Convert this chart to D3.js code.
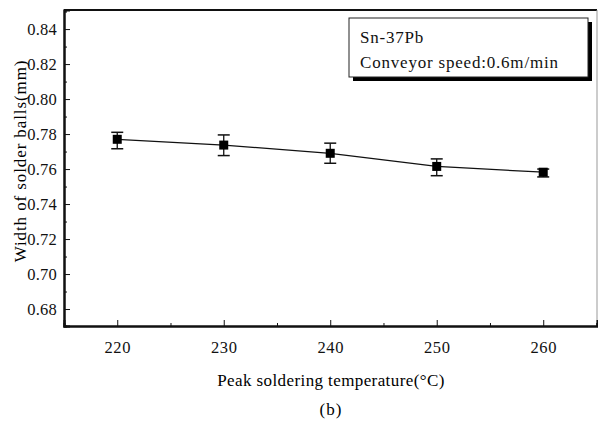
<!DOCTYPE html>
<html>
<head>
<meta charset="utf-8">
<script src="https://cdn.jsdelivr.net/npm/d3@7"></script>
<style>
  body { margin: 0; background: #fff; }
</style>
</head>
<body>
<script>
// Width of solder balls vs peak soldering temperature
var temps = [220, 230, 240, 250, 260];
var widths = [0.777, 0.7737, 0.769, 0.7615, 0.7582];
var errUp = [0.781, 0.7795, 0.7748, 0.7658, 0.760];
var errDown = [0.7716, 0.7677, 0.7633, 0.7562, 0.7555];
var xTicks = [220, 230, 240, 250, 260];
var yTicks = [0.68, 0.70, 0.72, 0.74, 0.76, 0.78, 0.80, 0.82, 0.84];
var legendLines = ['Sn-37Pb', 'Conveyor speed:0.6m/min'];

var serif = '"Liberation Serif", "Times New Roman", Times, "DejaVu Serif", serif';

var svgWidth = 598;
var svgHeight = 429;

var margin = { top: 10, right: 1, bottom: 103, left: 64 };
var chartWidth = svgWidth - margin.left - margin.right;
var chartHeight = svgHeight - margin.top - margin.bottom;

var svg = d3.select('body').append('svg')
  .attr('width', svgWidth)
  .attr('height', svgHeight);

var chart = svg.append('g')
  .attr('transform', `translate(${margin.left}, ${margin.top})`);

var xScale = d3.scaleLinear()
  .range([0, chartWidth])
  .domain([215, 265.05]);

var yScale = d3.scaleLinear()
  .range([chartHeight, 0])
  .domain([0.6703, 0.8509]);

// frame
chart.append('line')
  .attr('x1', 0).attr('x2', chartWidth)
  .attr('y1', 0).attr('y2', 0)
  .attr('stroke', '#111').attr('stroke-width', 2);
chart.append('line')
  .attr('x1', chartWidth).attr('x2', chartWidth)
  .attr('y1', 0).attr('y2', chartHeight)
  .attr('stroke', '#999').attr('stroke-width', 1);

// axes, ticks pointing inward
var bottomAxis = d3.axisBottom(xScale)
  .tickValues(xTicks)
  .tickSize(-6)
  .tickPadding(15)
  .tickFormat(d3.format('d'));
var bottomMinor = d3.axisBottom(xScale)
  .tickValues([225, 235, 245, 255, 265])
  .tickSize(-3)
  .tickFormat('');

var leftAxis = d3.axisLeft(yScale)
  .tickValues(yTicks)
  .tickSize(-6)
  .tickPadding(7)
  .tickFormat(d3.format('.2f'));
var leftMinor = d3.axisLeft(yScale)
  .tickValues([0.69, 0.71, 0.73, 0.75, 0.77, 0.79, 0.81, 0.83, 0.85])
  .tickSize(-3)
  .tickFormat('');

var gx = chart.append('g')
  .attr('transform', `translate(0, ${chartHeight})`)
  .call(bottomAxis);
chart.append('g')
  .attr('transform', `translate(0, ${chartHeight})`)
  .call(bottomMinor);

var gy = chart.append('g').call(leftAxis);
chart.append('g').call(leftMinor);

chart.selectAll('.domain')
  .attr('stroke', '#111')
  .attr('stroke-width', 2);
chart.selectAll('.tick line').attr('stroke', '#111');
gx.selectAll('text')
  .style('font-family', serif)
  .style('font-size', '16.5px')
  .style('letter-spacing', '0.6px')
  .attr('fill', '#111');
gy.selectAll('text')
  .style('font-family', serif)
  .style('font-size', '16.5px')
  .style('letter-spacing', '0.2px')
  .attr('fill', '#111');

// axis labels
chart.append('text')
  .attr('x', 267)
  .attr('y', chartHeight + 60)
  .attr('text-anchor', 'middle')
  .style('font-family', serif)
  .style('font-size', '17px')
  .style('letter-spacing', '0.4px')
  .text('Peak soldering temperature(\u00B0C)');

chart.append('text')
  .attr('x', 267)
  .attr('y', chartHeight + 89)
  .attr('text-anchor', 'middle')
  .style('font-family', serif)
  .style('font-size', '17px')
  .style('letter-spacing', '1px')
  .text('(b)');

chart.append('text')
  .attr('transform', 'rotate(-90)')
  .attr('x', -151)
  .attr('y', -38)
  .attr('text-anchor', 'middle')
  .style('font-family', serif)
  .style('font-size', '17px')
  .style('letter-spacing', '0.9px')
  .text('Width of solder balls(mm)');

// line
var line = d3.line()
  .x(function(d, i) { return xScale(temps[i]); })
  .y(function(d) { return yScale(d); });

chart.append('path')
  .datum(widths)
  .attr('d', line)
  .attr('fill', 'none')
  .attr('stroke', '#111')
  .attr('stroke-width', 1.2);

// error bars
var bars = chart.selectAll('.err')
  .data(temps)
  .enter()
  .append('g')
  .attr('class', 'err');

bars.append('line')
  .attr('x1', function(d) { return xScale(d); })
  .attr('x2', function(d) { return xScale(d); })
  .attr('y1', function(d, i) { return yScale(errUp[i]); })
  .attr('y2', function(d, i) { return yScale(errDown[i]); })
  .attr('stroke', '#111')
  .attr('stroke-width', 1.3);

bars.append('line')
  .attr('x1', function(d) { return xScale(d) - 6; })
  .attr('x2', function(d) { return xScale(d) + 6; })
  .attr('y1', function(d, i) { return yScale(errUp[i]); })
  .attr('y2', function(d, i) { return yScale(errUp[i]); })
  .attr('stroke', '#111')
  .attr('stroke-width', 1.5);

bars.append('line')
  .attr('x1', function(d) { return xScale(d) - 6; })
  .attr('x2', function(d) { return xScale(d) + 6; })
  .attr('y1', function(d, i) { return yScale(errDown[i]); })
  .attr('y2', function(d, i) { return yScale(errDown[i]); })
  .attr('stroke', '#111')
  .attr('stroke-width', 1.5);

// markers
chart.selectAll('.pt')
  .data(widths)
  .enter()
  .append('rect')
  .attr('class', 'pt')
  .attr('x', function(d, i) { return xScale(temps[i]) - 4.5; })
  .attr('y', function(d) { return yScale(d) - 4.5; })
  .attr('width', 9)
  .attr('height', 9)
  .attr('fill', '#000');

// legend box with shadow
var legend = svg.append('g')
  .attr('transform', 'translate(349, 18)');

legend.append('rect')
  .attr('x', 4).attr('y', 4)
  .attr('width', 239).attr('height', 59)
  .attr('fill', '#000');
legend.append('rect')
  .attr('x', 0).attr('y', 0)
  .attr('width', 239).attr('height', 59)
  .attr('fill', '#fff')
  .attr('stroke', '#222')
  .attr('stroke-width', 1);

legend.selectAll('.leg')
  .data(legendLines)
  .enter()
  .append('text')
  .attr('class', 'leg')
  .attr('x', 11)
  .attr('y', function(d, i) { return 25 + i * 25; })
  .style('font-family', serif)
  .style('font-size', '17px')
  .style('letter-spacing', '0.8px')
  .attr('fill', '#111')
  .text(function(d) { return d; });
</script>
</body>
</html>
